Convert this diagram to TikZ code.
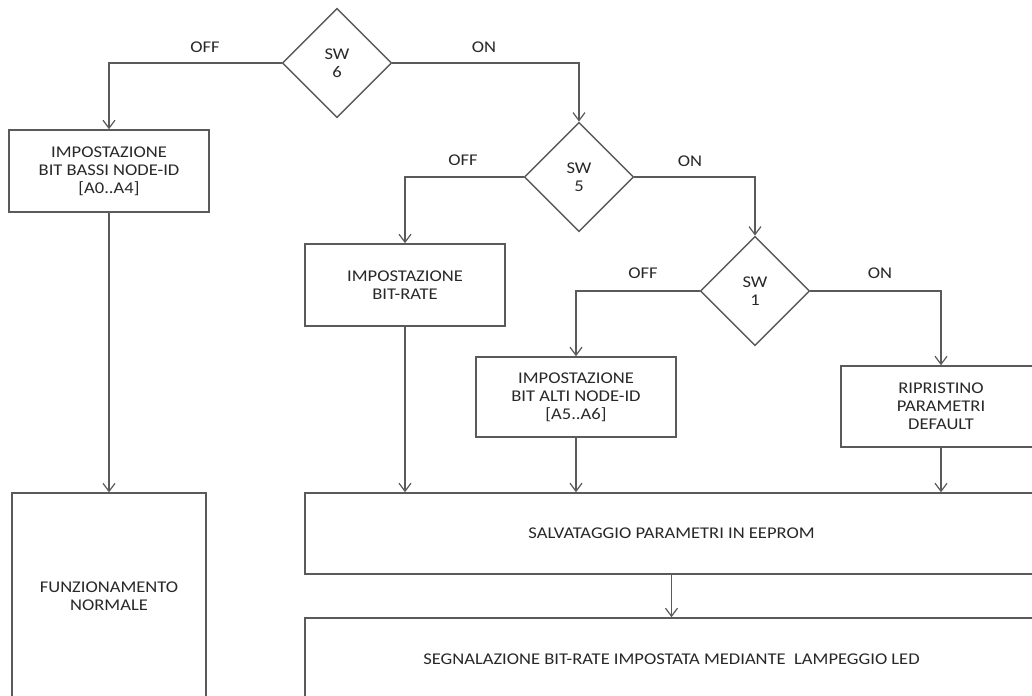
\documentclass[tikz,border=0pt]{standalone}
\usepackage{fontspec}
\setmainfont{Carlito}[FakeStretch=1.13]
\usetikzlibrary{shapes.geometric,arrows.meta}
\definecolor{linec}{RGB}{90,90,90}
\definecolor{textc}{RGB}{40,40,40}
\tikzset{
  x=0.75pt, y=-0.75pt,
  every node/.style={font=\fontsize{12.3pt}{13.5pt}\selectfont, text=textc},
  box/.style={draw=linec, line width=1.15pt, rectangle, inner sep=0pt, align=center},
  dec/.style={draw=linec, line width=1.15pt, diamond, inner sep=0pt, align=center,
    minimum width=82pt, minimum height=82pt},
  conn/.style={draw=linec, line width=1.15pt, -{Straight Barb[length=6pt,width=9pt,line width=0.9pt]}},
  lbl/.style={inner sep=0pt}
}
\begin{document}
\begin{tikzpicture}
\useasboundingbox (0,0) rectangle (1032,696);
\clip (0,0) rectangle (1032,696);
\fill[white] (0,0) rectangle (1032,696);

% decisions
\node[dec] (sw6) at (337,63) {SW\\6};
\node[dec] (sw5) at (579,177) {SW\\5};
\node[dec] (sw1) at (755,291) {SW\\1};

% boxes
\node[box, minimum width=150pt, minimum height=61.5pt] (bassi) at (109,171)
  {IMPOSTAZIONE\\BIT BASSI NODE-ID\\{[A0..A4]}};
\node[box, minimum width=145.5pt, minimum height=155pt] (funz) at (109,596.5)
  {FUNZIONAMENTO\\NORMALE};
\node[box, minimum width=150pt, minimum height=61.5pt] (rate) at (405,285)
  {IMPOSTAZIONE\\BIT-RATE};
\node[box, minimum width=150pt, minimum height=60pt] (alti) at (576,397)
  {IMPOSTAZIONE\\BIT ALTI NODE-ID\\{[A5..A6]}};
\node[box, minimum width=150pt, minimum height=60.75pt] (rip) at (941,406.5)
  {RIPRISTINO\\PARAMETRI\\DEFAULT};
\node[box, minimum width=549.75pt, minimum height=60.75pt] (salv) at (671.5,533.5)
  {SALVATAGGIO PARAMETRI IN EEPROM};
\node[box, minimum width=549.75pt, minimum height=61.5pt] (segn) at (671.5,659)
  {SEGNALAZIONE BIT-RATE IMPOSTATA MEDIANTE\ \ LAMPEGGIO LED};

% connectors
\draw[conn] (sw6.west) -| (bassi.north);
\draw[conn] (sw6.east) -| (sw5.north);
\draw[conn] (sw5.west) -| (rate.north);
\draw[conn] (sw5.east) -| (sw1.north);
\draw[conn] (sw1.west) -| (alti.north);
\draw[conn] (sw1.east) -| (rip.north);
\draw[conn] (bassi.south) -- (funz.north);
\draw[conn] (rate.south) -- (rate.south |- salv.north);
\draw[conn] (alti.south) -- (alti.south |- salv.north);
\draw[conn] (rip.south) -- (rip.south |- salv.north);
\draw[conn] (salv.south) -- (segn.north);

% labels
\node[lbl] (l6off) at (205,47) {OFF};
\node[lbl] (l6on) at (484,47) {ON};
\node[lbl] (l5off) at (463,160) {OFF};
\node[lbl] (l5on) at (690,161) {ON};
\node[lbl] (l1off) at (643,273) {OFF};
\node[lbl] (l1on) at (880,273) {ON};
\end{tikzpicture}
\end{document}
